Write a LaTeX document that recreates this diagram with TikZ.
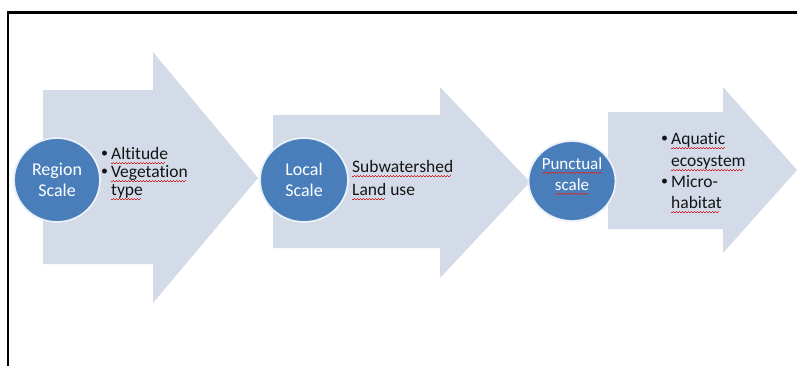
\documentclass[tikz,border=0pt]{standalone}
\usepackage{fontspec}
\setmainfont{Carlito}[Ligatures=NoCommon]
\definecolor{arrowfill}{RGB}{212,219,232}
\definecolor{circfill}{RGB}{74,126,187}
\definecolor{txt}{RGB}{20,20,20}
\definecolor{wavered}{RGB}{215,40,40}
\newsavebox\wavebox
\newcommand\redwave[1]{\sbox\wavebox{#1}%
  \rlap{\textcolor{wavered}{\raisebox{-3.8pt}{\hbox to \wd\wavebox{\leaders\hbox to 3pt{\rule{1.5pt}{0.7pt}\raisebox{0.7pt}{\rule{1.5pt}{0.7pt}}}\hfill}}}}%
  \usebox\wavebox}
\tikzset{
  arrowshape/.style={fill=arrowfill, draw=none},
  scalecirc/.style={ellipse, fill=circfill, draw=white!88!circfill, line width=1.8pt, inner sep=0pt},
  circtext/.style={text=white, align=center, inner sep=0pt, font=\fontsize{18}{21}\selectfont},
  bullettext/.style={text=txt, inner sep=0pt, font=\fontsize{17.5}{21}\selectfont},
  frameline/.style={draw=black, line width=2.2pt}
}
\usetikzlibrary{shapes.geometric}
\newcommand\bl{\raisebox{0.15em}{\scalebox{0.8}{\textbullet}}}
\begin{document}
\begin{tikzpicture}[x=1pt,y=-1pt]
\useasboundingbox (0,0) rectangle (797,365);
\fill[white] (0,0) rectangle (797,365);
% frame
\draw[frameline] (8,367) -- (8,12.5) -- (799,12.5);
% arrows
\fill[arrowshape] (43,90) -- (153,90) -- (153,52) -- (258,178) -- (153,303) -- (153,264) -- (43,264) -- cycle;
\fill[arrowshape] (273,115) -- (440,115) -- (440,87) -- (530,182) -- (440,278) -- (440,248) -- (273,248) -- cycle;
\fill[arrowshape] (608,112) -- (723,112) -- (723,87) -- (797,170) -- (723,253) -- (723,229) -- (608,229) -- cycle;
% circles
\node[scalecirc, minimum width=86pt, minimum height=84pt] (region) at (57,180) {};
\node[circtext] (regiontxt) at (region.center) {Region\\Scale};
\node[scalecirc, minimum width=88pt, minimum height=84pt] (local) at (304,180) {};
\node[circtext] (localtxt) at (local.center) {Local\\Scale};
\node[scalecirc, minimum width=87pt, minimum height=80pt] (punctual) at (572,181) {};
\node[circtext, font=\fontsize{17}{21}\selectfont] (punctualtxt) at ([yshift=5pt]punctual.center) {\redwave{Punctual}\\\redwave{scale}};
% texts
\node[bullettext, anchor=north west] (t1) at (101,145) {%
  \begin{tabular}{@{}l@{\hspace{3pt}}l@{}}
  \bl & \redwave{Altitude}\\[-3pt]
  \bl & \redwave{Vegetation}\\[-3pt]
      & \redwave{type}
  \end{tabular}};
\node[bullettext, anchor=west, align=left] (t2) at (352,180) {\redwave{Subwatershed}\\[2pt]\redwave{Land} use};
\node[bullettext, anchor=north west] (t3) at (661,130) {%
  \begin{tabular}{@{}l@{\hspace{3pt}}l@{}}
  \bl & \redwave{Aquatic}\\[1pt]
      & \redwave{ecosystem}\\
  \bl & Micro-\\
      & \redwave{habitat}
  \end{tabular}};
\end{tikzpicture}
\end{document}
